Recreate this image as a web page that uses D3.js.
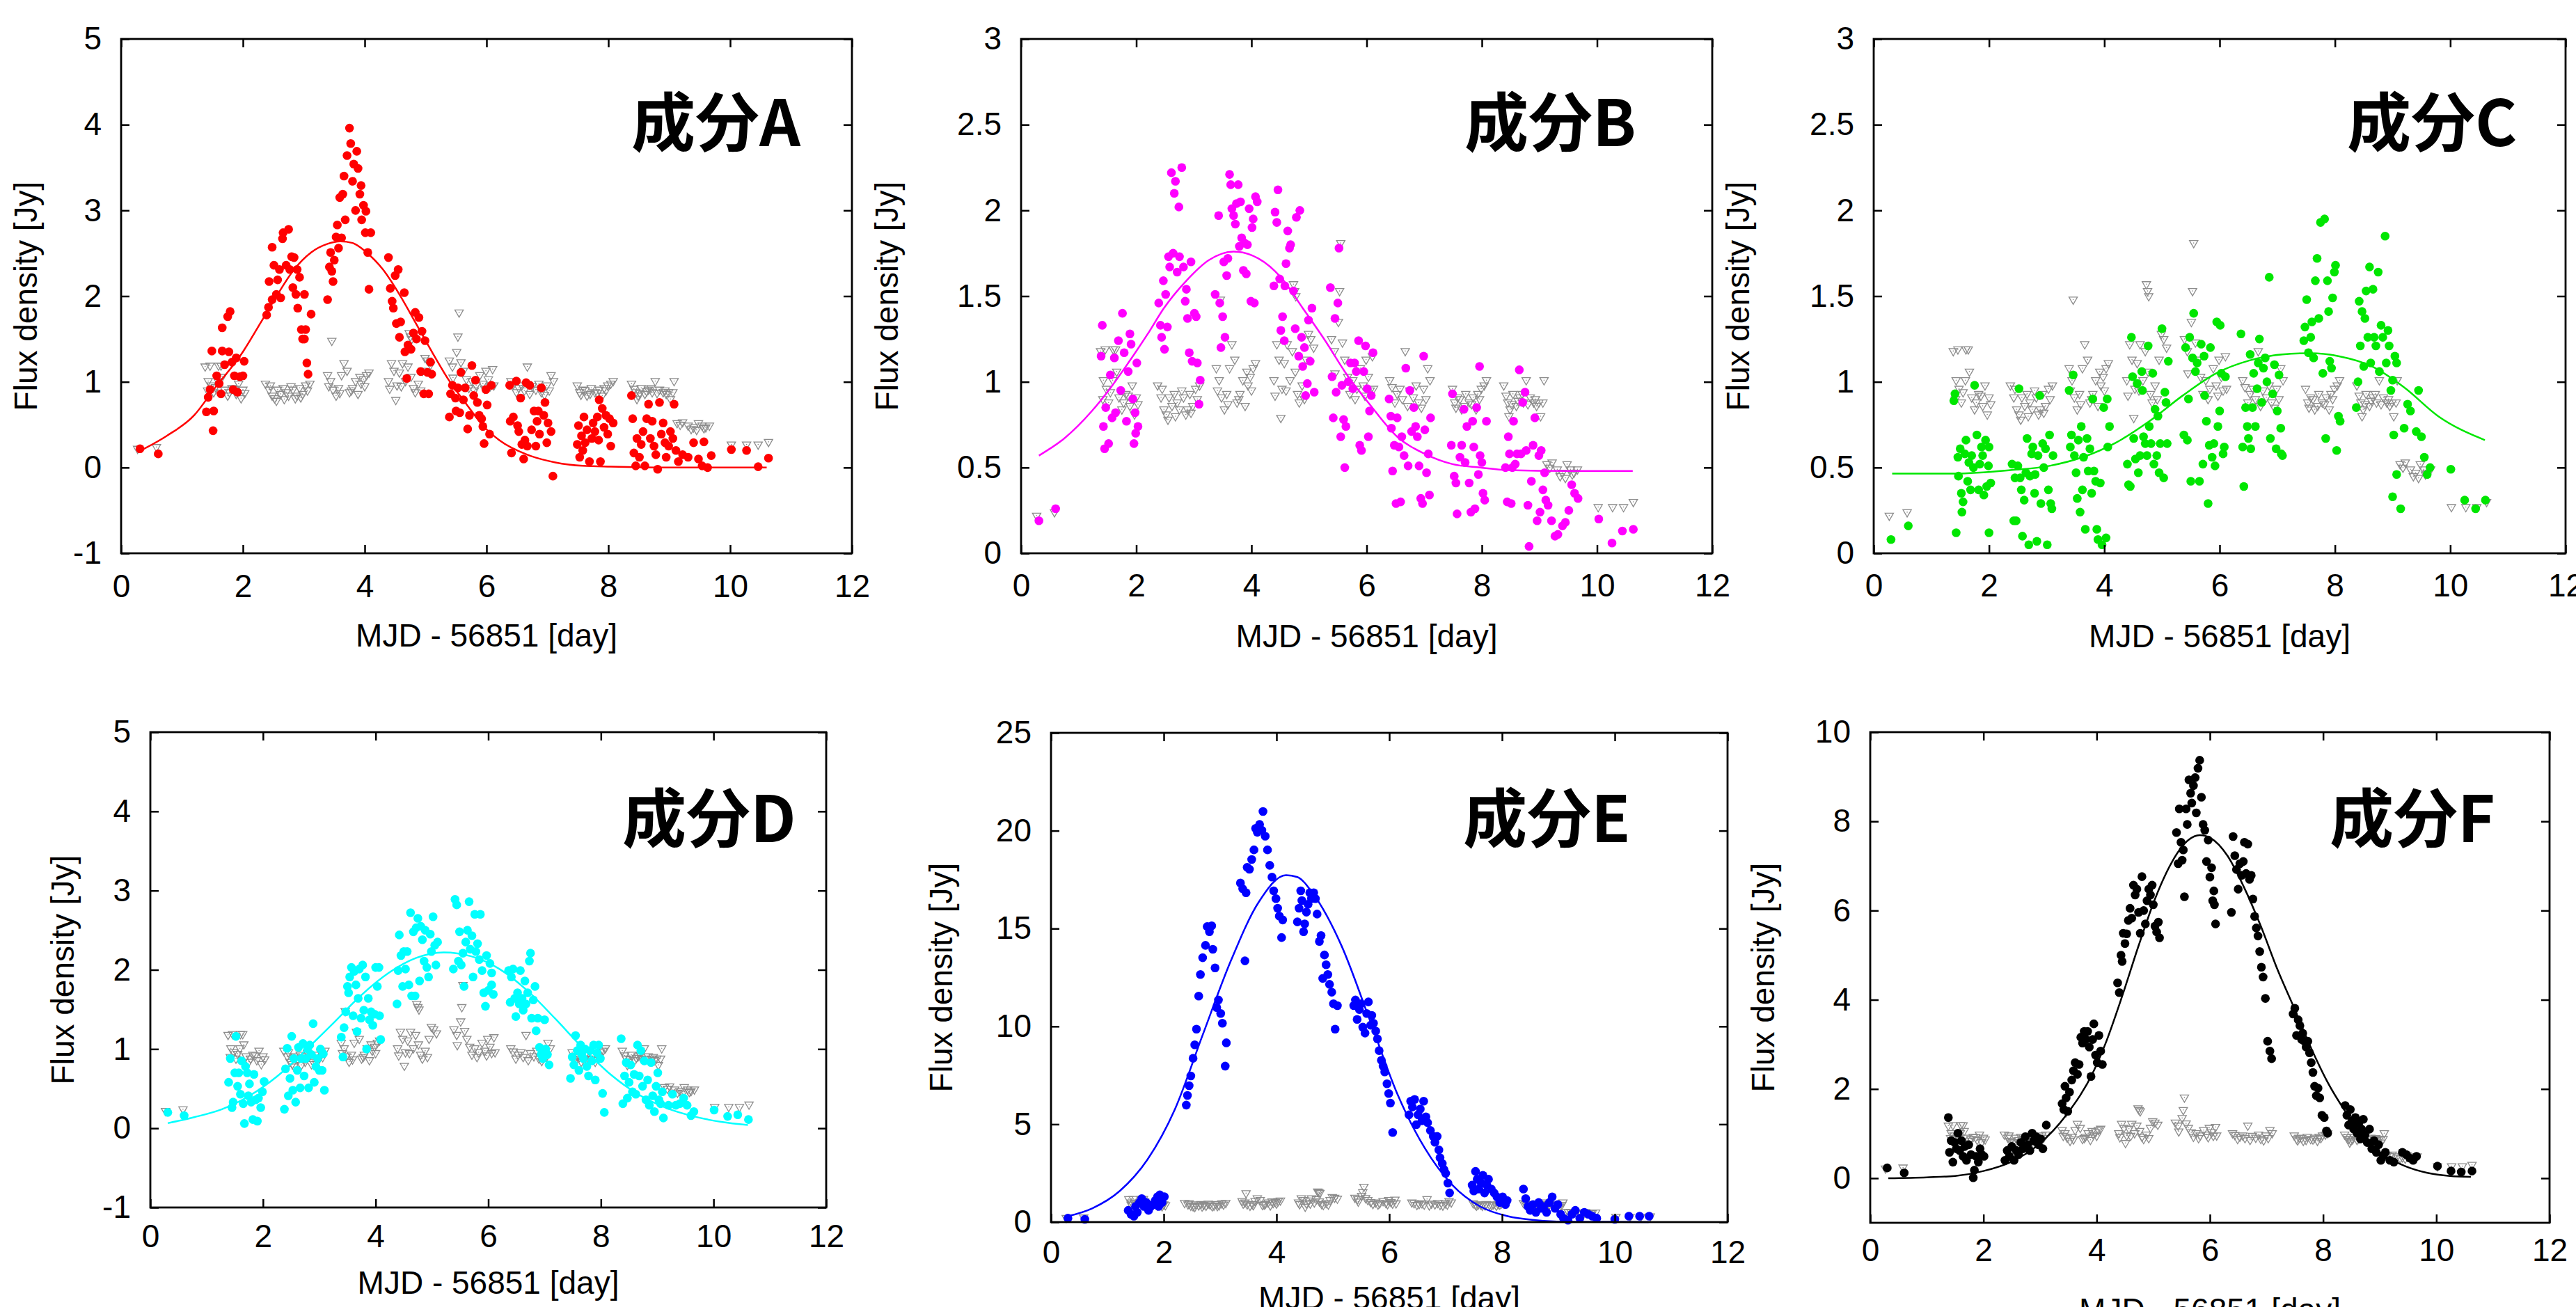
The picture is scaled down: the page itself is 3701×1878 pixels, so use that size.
<!DOCTYPE html>
<html><head><meta charset="utf-8">
<script src="https://cdn.jsdelivr.net/npm/d3@7"></script>
<style>body{margin:0;background:#fff}svg{display:block;background:#fff}</style>
</head><body>
<script>
// ---------------- DATA ----------------
const panelNames = ["成分A","成分B","成分C","成分D","成分E","成分F"];
const seriesColors = ["#ff0000","#ff00ff","#00e600","#00ffff","#0000ff","#000000"];
const xTicks = [0,2,4,6,8,10,12];
const yTicksA = [-1,0,1,2,3,4,5];
const yTicksB = [0,0.5,1,1.5,2,2.5,3];
const yTicksC = [0,0.5,1,1.5,2,2.5,3];
const yTicksD = [-1,0,1,2,3,4,5];
const yTicksE = [0,5,10,15,20,25];
const yTicksF = [0,2,4,6,8,10];
const xLabel = "MJD - 56851 [day]";
const yLabel = "Flux density [Jy]";

// gray downward triangles (same in every panel)
const limits = [
[0.27,0.22],[0.58,0.24],
[1.38,1.18],[1.46,1.19],[1.60,1.19],[1.43,1.01],[1.48,0.96],[1.52,0.88],[1.59,1.01],[1.64,1.19],[1.66,1.06],[1.70,0.91],[1.75,0.84],[1.82,0.93],[1.89,0.86],[1.93,0.98],[2.0,0.91],[1.97,0.81],[1.42,0.90],[1.55,0.94],[1.78,0.88],[1.86,0.92],[2.03,0.87],
[2.37,0.98],[2.43,0.91],[2.48,0.84],[2.52,0.81],[2.57,0.91],[2.62,0.86],[2.66,0.93],[2.71,0.88],[2.75,0.84],[2.82,0.91],[2.89,0.84],[2.93,0.93],[2.98,0.86],[3.03,0.96],[3.10,0.98],[2.86,0.81],[2.45,0.96],[2.55,0.78],[2.68,0.80],[2.79,0.95],[2.95,0.82],[3.06,0.90],
[3.46,1.48],[3.39,1.08],[3.44,1.01],[3.48,0.91],[3.53,0.84],[3.57,0.93],[3.62,1.08],[3.66,1.22],[3.71,1.13],[3.75,0.88],[3.80,0.93],[3.85,1.01],[3.89,0.86],[3.94,0.98],[3.98,1.03],[4.03,1.08],[4.07,1.11],[3.92,1.06],[3.41,0.95],[3.59,0.87],[3.78,0.90],[4.00,0.95],
[4.39,1.01],[4.44,1.22],[4.48,1.13],[4.51,0.79],[4.53,0.96],[4.57,1.11],[4.62,1.22],[4.67,1.01],[4.71,1.18],[4.76,1.06],[4.83,0.88],[4.88,0.98],[4.95,1.13],[4.99,1.28],[5.03,1.25],[5.08,1.20],[4.73,1.57],[4.75,1.53],[4.77,1.50],[4.41,0.92],[4.60,0.95],[4.80,0.93],[4.92,0.90],
[5.39,1.25],[5.44,1.18],[5.55,1.81],[5.53,1.53],[5.51,1.35],[5.58,1.23],[5.62,1.13],[5.67,1.03],[5.71,0.93],[5.76,1.01],[5.83,0.96],[5.89,1.08],[5.94,0.98],[5.99,1.13],[6.03,1.03],[6.10,1.15],[6.12,0.96],[5.45,1.05],[5.80,0.90],[5.97,0.92],[6.06,0.95],
[6.40,1.01],[6.49,0.88],[6.58,0.96],[6.67,1.18],[6.71,0.86],[6.81,0.91],[6.90,0.88],[6.99,0.96],[7.06,1.08],[7.10,1.01],[6.44,0.97],[6.53,0.93],[6.62,0.90],[6.75,0.95],[6.86,0.98],[6.95,0.85],[7.03,0.90],
[7.49,0.96],[7.53,0.88],[7.58,0.91],[7.65,0.84],[7.72,0.93],[7.78,0.88],[7.85,0.91],[7.93,0.93],[7.99,0.96],[8.04,0.98],[8.08,1.01],[7.90,0.84],[7.55,0.85],[7.62,0.90],[7.70,0.86],[7.82,0.87],[7.96,0.90],
[8.38,0.98],[8.45,0.88],[8.49,0.84],[8.54,0.93],[8.60,0.86],[8.66,0.91],[8.72,0.88],[8.77,1.01],[8.84,0.91],[8.90,0.88],[8.95,0.86],[8.99,0.88],[9.06,0.88],[9.08,1.01],[8.42,0.92],[8.47,0.80],[8.52,0.87],[8.63,0.89],[8.70,0.93],[8.80,0.87],[8.93,0.90],[9.02,0.80],
[9.13,0.52],[9.22,0.53],[9.31,0.49],[9.40,0.47],[9.48,0.52],[9.54,0.49],[9.60,0.47],[9.66,0.49],[9.18,0.50],[9.36,0.45],[9.45,0.44],[9.57,0.46],
[10.02,0.27],[10.27,0.27],[10.46,0.27],[10.63,0.30]
];

const pointsA = [
[0.31,0.22],[0.61,0.16],
[1.49,1.36],[1.43,0.82],[1.40,0.65],[1.52,0.66],[1.51,0.43],[1.57,1.07],[1.61,0.98],[1.64,0.86],[1.66,1.63],[1.66,1.36],[1.70,1.20],[1.75,1.76],[1.79,1.82],[1.77,1.35],[1.82,1.23],[1.89,1.28],[1.86,1.07],[1.91,0.88],[1.95,1.06],[2.0,1.07],[2.02,1.24],[1.84,0.91],[1.46,0.91],
[2.39,1.78],[2.42,1.87],[2.43,2.17],[2.48,1.96],[2.48,2.57],[2.51,2.36],[2.55,2.02],[2.57,2.19],[2.60,2.31],[2.62,1.98],[2.65,2.67],[2.66,2.74],[2.71,2.36],[2.75,2.78],[2.77,2.31],[2.80,2.46],[2.82,2.10],[2.84,2.45],[2.89,2.31],[2.87,2.02],[2.90,1.86],[2.93,2.22],[2.96,1.61],[2.98,1.50],[3.01,2.02],[3.03,1.61],[3.05,1.22],[3.07,1.09],[3.12,1.79],[3.01,1.50],
[3.39,1.96],[3.42,2.34],[3.44,2.51],[3.46,2.29],[3.48,2.17],[3.50,2.42],[3.53,2.69],[3.55,2.83],[3.57,2.56],[3.59,3.15],[3.62,2.68],[3.64,3.19],[3.66,3.40],[3.68,2.89],[3.71,3.64],[3.75,3.96],[3.77,3.78],[3.80,3.34],[3.82,3.54],[3.85,3.00],[3.87,3.69],[3.89,3.49],[3.92,3.19],[3.94,3.29],[3.95,2.89],[3.98,3.06],[4.01,2.74],[4.02,2.99],[4.05,2.51],[4.07,2.08],[4.10,2.74],
[4.39,2.45],[4.42,2.09],[4.45,1.94],[4.47,1.86],[4.50,2.24],[4.52,1.68],[4.55,2.31],[4.57,1.52],[4.59,1.70],[4.65,2.04],[4.66,1.35],[4.69,1.04],[4.71,1.43],[4.76,1.38],[4.80,1.57],[4.83,1.81],[4.85,1.50],[4.89,1.75],[4.92,1.12],[4.94,1.59],[4.97,0.86],[4.99,1.48],[5.03,1.11],[5.05,0.86],[5.08,1.23],[5.10,1.09],
[5.39,0.59],[5.41,0.86],[5.44,0.96],[5.49,0.81],[5.50,0.66],[5.53,0.93],[5.56,0.64],[5.58,1.11],[5.62,0.79],[5.65,0.93],[5.69,0.45],[5.72,0.61],[5.76,1.19],[5.79,0.84],[5.82,1.02],[5.85,0.76],[5.88,0.61],[5.92,0.57],[5.94,0.48],[5.96,0.28],[5.99,0.91],[6.01,0.73],[6.05,0.39],[6.08,0.96],
[6.38,0.96],[6.39,0.54],[6.41,0.17],[6.44,0.59],[6.49,1.01],[6.51,0.49],[6.53,0.42],[6.56,0.81],[6.58,0.27],[6.61,0.10],[6.63,0.32],[6.65,0.99],[6.67,0.25],[6.71,0.96],[6.74,0.44],[6.78,0.66],[6.81,0.25],[6.83,0.54],[6.85,0.66],[6.87,0.39],[6.90,0.93],[6.94,0.61],[6.96,0.76],[6.99,0.29],[7.01,0.52],[7.06,0.42],[7.09,-0.10],
[7.49,0.27],[7.51,0.49],[7.53,0.12],[7.56,0.37],[7.58,0.20],[7.60,0.59],[7.62,0.29],[7.65,0.44],[7.69,0.07],[7.73,0.34],[7.75,0.52],[7.78,0.42],[7.82,0.59],[7.84,0.32],[7.85,0.79],[7.87,0.07],[7.90,0.69],[7.93,0.47],[7.96,0.61],[7.99,0.39],[8.02,0.57],[8.04,0.25],[8.08,0.52],
[8.38,0.84],[8.40,0.57],[8.42,0.17],[8.45,0.02],[8.47,0.34],[8.51,0.12],[8.54,0.27],[8.57,0.42],[8.60,0.02],[8.63,0.57],[8.66,0.74],[8.69,0.34],[8.72,0.54],[8.75,0.25],[8.78,0.15],[8.81,-0.02],[8.84,0.76],[8.87,0.39],[8.90,0.52],[8.93,0.29],[8.95,0.12],[8.99,0.25],[9.02,0.42],[9.06,0.34],[9.08,0.74],[9.11,0.20],[9.15,0.07],
[9.22,0.15],[9.31,0.12],[9.40,0.29],[9.48,0.10],[9.54,0.02],[9.57,0.30],[9.63,0.00],[9.69,0.14],
[10.02,0.21],[10.27,0.20],[10.46,0.01],[10.63,0.11]
];

const pointsB = [
[0.31,0.19],[0.60,0.26],
[1.41,1.33],[1.39,1.15],[1.43,0.74],[1.45,0.61],[1.47,0.85],[1.52,0.64],[1.55,1.04],[1.58,0.79],[1.62,1.14],[1.64,0.82],[1.69,1.24],[1.73,0.95],[1.76,1.40],[1.79,1.17],[1.83,0.77],[1.86,1.06],[1.89,1.28],[1.91,1.22],[1.94,0.90],[1.96,0.64],[1.98,0.82],[2.01,1.11],[2.03,0.74],[1.99,0.70],
[2.39,1.46],[2.42,1.33],[2.44,1.26],[2.49,1.19],[2.47,1.59],[2.51,1.51],[2.54,1.32],[2.56,1.73],[2.58,1.67],[2.61,2.22],[2.64,1.75],[2.66,2.10],[2.68,2.17],[2.71,1.64],[2.74,2.02],[2.75,1.73],[2.79,2.25],[2.82,1.67],[2.85,1.47],[2.87,1.54],[2.89,1.37],[2.92,1.17],[2.95,1.70],[2.97,1.12],[3.01,1.40],[3.04,1.38],[3.06,1.11],[3.09,0.87],[3.11,1.01],
[3.37,1.51],[3.43,1.97],[3.45,1.46],[3.47,1.20],[3.50,1.38],[3.52,1.70],[3.54,1.26],[3.57,1.62],[3.59,1.72],[3.62,2.21],[3.64,2.15],[3.66,2.01],[3.69,1.97],[3.72,1.92],[3.74,2.04],[3.77,2.15],[3.79,1.79],[3.81,2.05],[3.83,1.84],[3.86,1.65],[3.88,1.81],[3.91,1.63],[3.93,1.80],[3.96,2.01],[3.99,1.47],[4.01,1.90],[4.03,1.95],[4.05,1.46],[4.07,2.08],[4.10,2.05],
[4.39,1.56],[4.41,1.99],[4.44,1.93],[4.46,2.12],[4.49,1.60],[4.51,1.30],[4.54,1.38],[4.57,1.24],[4.58,1.56],[4.60,1.69],[4.63,1.88],[4.66,1.78],[4.68,1.80],[4.73,1.53],[4.76,1.31],[4.78,1.96],[4.82,1.15],[4.84,2.00],[4.87,1.26],[4.89,1.09],[4.92,1.20],[4.94,0.92],[4.97,0.99],[4.99,1.36],[5.02,1.12],[5.05,1.43],[5.09,0.94],
[5.37,1.55],[5.40,1.03],[5.42,0.79],[5.45,1.37],[5.47,0.94],[5.50,1.46],[5.52,1.78],[5.55,0.68],[5.57,0.98],[5.60,0.78],[5.62,0.50],[5.64,0.74],[5.68,1.00],[5.72,1.11],[5.76,0.96],[5.79,1.11],[5.82,1.06],[5.86,1.24],[5.88,0.63],[5.91,0.60],[5.95,1.06],[5.98,1.21],[6.01,0.96],[6.03,0.68],[6.05,0.83],[6.08,0.92],[6.11,1.17],
[6.39,0.90],[6.42,0.80],[6.43,0.73],[6.45,0.48],[6.48,0.63],[6.51,0.29],[6.53,0.79],[6.56,0.62],[6.59,0.30],[6.61,0.68],[6.65,0.57],[6.68,1.08],[6.72,0.51],[6.75,0.95],[6.78,0.71],[6.82,0.85],[6.85,0.74],[6.88,0.68],[6.91,0.51],[6.94,0.32],[6.97,0.29],[6.99,1.15],[7.01,0.72],[7.04,0.47],[7.07,0.58],[7.09,0.34],[7.11,0.79],
[7.47,0.63],[7.49,0.93],[7.52,0.45],[7.55,0.41],[7.57,0.23],[7.62,0.56],[7.65,0.63],[7.69,0.84],[7.71,0.53],[7.74,0.74],[7.78,0.41],[7.81,0.24],[7.84,0.77],[7.86,0.62],[7.88,0.26],[7.91,0.85],[7.94,0.46],[7.96,1.09],[7.97,0.57],[8.00,0.53],[8.02,0.35],[8.05,0.31],[8.08,0.77],
[8.41,0.50],[8.44,0.30],[8.46,0.68],[8.48,0.58],[8.51,0.29],[8.53,0.50],[8.55,0.77],[8.58,0.52],[8.61,0.58],[8.65,1.07],[8.68,0.58],[8.71,0.88],[8.75,0.94],[8.77,0.60],[8.80,0.28],[8.82,0.04],[8.86,0.42],[8.89,0.63],[8.92,0.79],[8.96,0.19],[8.99,0.57],[9.01,0.24],[9.03,0.60],[9.06,0.37],[9.09,0.47],[9.11,0.31],
[9.15,0.28],[9.21,0.19],[9.27,0.10],[9.32,0.11],[9.40,0.16],[9.45,0.18],[9.51,0.25],[9.56,0.40],[9.61,0.35],[9.67,0.32],
[10.03,0.20],[10.26,0.06],[10.44,0.13],[10.63,0.14]
];

const pointsC = [
[0.30,0.08],[0.60,0.16],
[1.41,0.93],[1.39,0.89],[1.43,0.12],[1.46,0.56],[1.47,0.45],[1.50,0.61],[1.52,0.35],[1.55,0.30],[1.53,0.24],[1.58,0.58],[1.60,0.66],[1.63,0.42],[1.65,0.53],[1.68,0.37],[1.70,0.57],[1.73,0.50],[1.75,0.98],[1.79,0.69],[1.82,0.37],[1.84,0.52],[1.87,0.62],[1.89,0.57],[1.91,0.34],[1.94,0.66],[1.96,0.39],[1.99,0.51],[2.00,0.62],[2.00,0.12],[2.03,0.41],
[2.40,0.52],[2.43,0.19],[2.45,0.44],[2.47,0.19],[2.50,0.51],[2.52,0.96],[2.54,0.44],[2.56,0.37],[2.58,0.10],[2.61,0.31],[2.64,0.47],[2.66,0.67],[2.69,0.05],[2.71,0.45],[2.74,0.58],[2.76,0.62],[2.79,0.35],[2.80,0.46],[2.83,0.07],[2.85,0.57],[2.88,0.92],[2.90,0.29],[2.93,0.64],[2.95,0.50],[2.98,0.61],[3.01,0.05],[3.03,0.37],[3.05,0.69],[3.07,0.29],[3.09,0.26],[3.11,0.57],
[3.39,0.95],[3.41,0.62],[3.43,0.69],[3.46,1.04],[3.48,0.57],[3.51,0.47],[3.53,0.32],[3.55,0.66],[3.58,0.24],[3.60,0.74],[3.62,0.37],[3.64,0.56],[3.67,0.14],[3.70,0.67],[3.72,0.48],[3.75,0.61],[3.78,0.35],[3.80,0.90],[3.82,0.48],[3.85,0.42],[3.87,0.14],[3.89,0.08],[3.93,0.41],[3.96,0.05],[3.99,0.85],[4.03,0.09],[4.06,0.62],[4.09,0.74],[4.05,0.90],
[4.40,0.52],[4.42,0.40],[4.45,0.39],[4.47,1.26],[4.49,1.03],[4.51,0.67],[4.54,0.55],[4.57,0.99],[4.59,0.47],[4.62,0.57],[4.65,1.06],[4.66,0.95],[4.68,0.68],[4.71,0.64],[4.74,0.57],[4.76,1.21],[4.78,0.74],[4.81,0.64],[4.84,1.05],[4.86,0.52],[4.88,0.84],[4.91,0.57],[4.93,0.80],[4.95,0.47],[4.97,0.64],[5.00,1.31],[5.03,0.44],[5.05,0.94],[5.07,0.88],[5.09,0.64],[5.11,1.12],
[5.38,0.69],[5.41,1.20],[5.44,0.66],[5.46,0.90],[5.48,1.26],[5.50,0.42],[5.53,1.14],[5.55,1.40],[5.58,1.06],[5.61,1.11],[5.65,0.42],[5.68,1.22],[5.71,0.52],[5.73,1.15],[5.74,0.92],[5.77,0.77],[5.80,0.29],[5.82,0.63],[5.84,1.20],[5.87,0.56],[5.90,0.64],[5.92,0.51],[5.95,1.35],[5.97,0.74],[6.00,0.83],[6.01,1.33],[6.03,1.05],[6.06,0.58],[6.08,0.62],[6.10,1.03],
[6.37,1.28],[6.40,0.62],[6.42,0.39],[6.45,0.85],[6.48,0.74],[6.50,0.67],[6.53,1.16],[6.54,0.61],[6.57,0.85],[6.59,1.05],[6.62,0.74],[6.65,0.96],[6.67,1.11],[6.69,1.25],[6.73,0.88],[6.76,1.08],[6.79,1.14],[6.82,1.00],[6.86,1.61],[6.88,0.67],[6.92,0.93],[6.95,1.10],[6.98,0.61],[7.00,0.83],[7.03,1.04],[7.06,0.73],[7.07,0.58],[7.09,0.57],
[7.46,1.24],[7.48,1.32],[7.51,1.48],[7.54,1.17],[7.58,1.26],[7.60,1.35],[7.63,1.14],[7.66,1.59],[7.69,1.72],[7.72,1.37],[7.75,1.93],[7.79,1.05],[7.82,1.95],[7.84,0.67],[7.87,1.59],[7.89,1.41],[7.91,1.12],[7.94,1.08],[7.96,1.49],[7.99,1.64],[8.01,1.68],[8.03,0.60],[8.06,0.80],[8.09,0.77],
[8.37,0.85],[8.40,1.00],[8.42,1.47],[8.44,1.21],[8.47,1.41],[8.50,1.09],[8.52,1.37],[8.54,1.53],[8.57,1.26],[8.60,1.67],[8.62,1.11],[8.66,1.54],[8.68,1.26],[8.71,1.21],[8.75,1.64],[8.77,1.06],[8.80,1.33],[8.83,1.26],[8.87,1.85],[8.89,1.11],[8.92,1.30],[8.94,1.21],[8.97,0.95],[9.00,1.01],[9.02,0.69],[9.04,1.15],[9.07,1.11],[9.00,0.33],[9.07,0.46],
[9.14,0.26],[9.20,0.73],[9.26,0.87],[9.31,0.83],[9.41,0.71],[9.45,0.95],[9.50,0.68],[9.55,0.56],[9.60,0.46],[9.65,0.50],
[10.01,0.49],[10.25,0.31],[10.44,0.26],[10.61,0.31]
];

const pointsD = [
[0.31,0.20],[0.60,0.16],
[1.39,0.58],[1.42,0.88],[1.45,0.26],[1.47,0.33],[1.50,0.70],[1.52,1.16],[1.55,0.53],[1.57,0.70],[1.60,0.43],[1.62,0.85],[1.65,0.31],[1.67,0.06],[1.69,0.78],[1.72,0.70],[1.74,0.41],[1.76,0.56],[1.79,0.33],[1.82,0.11],[1.84,0.68],[1.87,0.36],[1.90,0.09],[1.92,0.38],[1.96,0.26],[1.99,0.46],[2.02,0.59],
[2.38,0.24],[2.40,0.75],[2.43,1.01],[2.45,0.41],[2.48,0.63],[2.51,1.16],[2.53,0.48],[2.55,0.88],[2.58,0.33],[2.61,0.73],[2.63,1.02],[2.66,0.51],[2.68,0.88],[2.71,1.07],[2.73,0.66],[2.76,0.88],[2.79,1.00],[2.81,0.51],[2.83,1.05],[2.86,0.93],[2.89,1.32],[2.91,0.58],[2.94,0.78],[2.97,0.88],[3.00,0.73],[3.02,1.00],[3.05,0.73],[3.09,0.48],[3.07,0.94],
[3.39,1.15],[3.42,0.90],[3.44,1.27],[3.47,1.47],[3.50,1.79],[3.52,1.71],[3.54,1.91],[3.57,2.03],[3.60,1.42],[3.62,1.98],[3.65,1.81],[3.67,1.22],[3.69,1.64],[3.71,2.01],[3.74,1.39],[3.77,2.06],[3.79,1.49],[3.82,1.91],[3.84,1.00],[3.87,1.64],[3.89,1.37],[3.92,1.47],[3.95,1.30],[3.98,1.44],[4.00,2.03],[4.03,1.79],[4.06,2.03],[4.09,1.12],[4.07,1.42],
[4.38,1.57],[4.40,1.99],[4.42,2.44],[4.45,2.18],[4.48,1.79],[4.50,2.23],[4.53,2.01],[4.56,2.23],[4.59,1.81],[4.62,2.72],[4.64,1.67],[4.67,2.48],[4.70,1.67],[4.72,2.53],[4.75,2.65],[4.78,1.86],[4.80,2.55],[4.83,2.38],[4.86,2.11],[4.88,2.50],[4.91,2.03],[4.94,1.91],[4.97,2.45],[4.99,2.23],[5.02,2.67],[5.05,2.31],[5.07,2.06],[5.10,2.35],
[5.38,2.01],[5.41,2.89],[5.44,2.82],[5.47,2.11],[5.49,2.48],[5.52,2.06],[5.55,2.21],[5.57,1.79],[5.60,2.35],[5.63,2.50],[5.66,2.86],[5.68,2.26],[5.71,2.43],[5.73,1.91],[5.76,2.70],[5.78,2.23],[5.81,2.33],[5.84,2.13],[5.86,2.70],[5.89,1.99],[5.92,1.71],[5.95,1.54],[5.97,2.18],[6.00,1.74],[6.03,2.08],[6.06,1.81],[6.09,1.69],[6.06,1.96],
[6.36,1.99],[6.39,1.59],[6.41,1.91],[6.44,2.01],[6.47,1.64],[6.49,1.41],[6.52,1.71],[6.55,1.57],[6.57,1.99],[6.60,1.64],[6.62,1.49],[6.65,1.86],[6.67,1.57],[6.70,1.71],[6.73,2.11],[6.75,2.21],[6.77,1.39],[6.80,1.62],[6.83,1.79],[6.85,1.23],[6.88,1.39],[6.91,1.02],[6.94,0.93],[6.97,0.88],[7.00,1.37],[7.02,1.00],[7.05,0.93],[7.08,0.80],
[7.46,0.63],[7.49,0.90],[7.52,0.80],[7.55,1.17],[7.58,0.98],[7.61,0.73],[7.64,1.05],[7.66,0.93],[7.69,0.88],[7.72,1.00],[7.75,0.78],[7.78,0.66],[7.81,0.98],[7.84,0.85],[7.87,1.05],[7.90,0.61],[7.93,0.95],[7.96,1.05],[7.99,0.88],[8.03,0.44],[8.06,0.20],
[8.36,1.13],[8.39,0.31],[8.42,0.66],[8.45,0.83],[8.47,0.38],[8.50,0.58],[8.53,0.80],[8.56,0.46],[8.59,0.68],[8.62,0.43],[8.65,1.05],[8.68,0.66],[8.71,0.98],[8.74,0.53],[8.77,0.85],[8.80,0.36],[8.83,0.61],[8.86,0.29],[8.89,0.83],[8.92,0.41],[8.95,0.21],[8.98,0.53],[9.01,0.70],[9.03,0.36],[9.06,0.31],[9.09,0.46],[9.11,0.13],
[9.20,0.29],[9.27,0.43],[9.33,0.29],[9.40,0.31],[9.47,0.38],[9.53,0.29],[9.60,0.16],[9.65,0.21],
[10.01,0.23],[10.25,0.15],[10.43,0.17],[10.62,0.11]
];

const pointsE = [
[0.30,0.20],[0.60,0.14],
[1.37,0.60],[1.42,0.40],[1.47,0.30],[1.50,0.80],[1.53,0.50],[1.57,1.00],[1.61,1.20],[1.65,0.80],[1.69,1.00],[1.73,0.60],[1.77,0.80],[1.81,0.90],[1.85,1.10],[1.89,1.30],[1.93,1.39],[1.97,1.00],[2.01,1.30],[1.91,0.80],
[2.40,5.98],[2.42,6.47],[2.45,6.97],[2.48,7.47],[2.52,8.37],[2.55,9.06],[2.58,9.86],[2.62,11.55],[2.65,12.65],[2.69,13.51],[2.74,14.14],[2.77,15.10],[2.81,14.84],[2.85,15.14],[2.87,13.94],[2.91,12.99],[2.94,10.96],[2.97,11.35],[3.01,10.66],[3.04,10.16],[3.09,7.97],[3.11,9.16],
[3.36,17.33],[3.40,17.03],[3.44,13.35],[3.46,16.83],[3.48,18.13],[3.52,18.03],[3.56,18.53],[3.60,19.02],[3.63,20.12],[3.66,19.92],[3.70,20.32],[3.74,20.02],[3.76,20.98],[3.80,19.72],[3.84,19.02],[3.88,18.23],[3.92,17.63],[3.95,16.93],[3.99,16.53],[4.02,16.04],[4.05,15.64],[4.09,14.54],[4.11,15.44],
[4.37,15.34],[4.40,16.04],[4.43,16.93],[4.45,16.43],[4.48,14.84],[4.50,15.24],[4.53,15.84],[4.56,16.24],[4.59,16.83],[4.62,16.53],[4.66,16.83],[4.69,16.53],[4.72,15.74],[4.76,14.34],[4.79,14.64],[4.82,12.45],[4.85,13.65],[4.88,13.15],[4.91,12.65],[4.94,12.15],[4.98,11.75],[5.01,11.16],[5.04,9.86],[5.08,11.06],
[5.37,11.06],[5.40,11.35],[5.43,10.36],[5.47,10.86],[5.50,11.16],[5.53,9.96],[5.57,9.66],[5.60,10.66],[5.63,11.25],[5.67,10.06],[5.69,10.56],[5.72,10.16],[5.76,9.76],[5.79,9.36],[5.82,8.76],[5.86,8.27],[5.89,7.97],[5.92,7.67],[5.96,7.07],[5.99,6.57],[6.02,6.08],[6.06,4.58],
[6.35,5.48],[6.38,6.18],[6.41,5.88],[6.45,6.27],[6.48,4.98],[6.51,5.48],[6.55,5.78],[6.58,5.18],[6.61,6.18],[6.65,5.38],[6.68,5.08],[6.73,4.68],[6.78,4.38],[6.81,4.08],[6.85,4.38],[6.88,3.69],[6.90,3.29],[6.94,2.99],[6.97,2.69],[7.00,2.49],[7.04,1.99],[7.07,1.49],
[7.47,1.89],[7.50,1.59],[7.53,2.59],[7.56,2.19],[7.59,1.69],[7.63,1.99],[7.66,2.39],[7.69,1.49],[7.73,1.89],[7.76,2.19],[7.81,1.69],[7.86,1.49],[7.91,1.29],[7.96,1.00],[8.01,1.29],[8.06,0.90],[8.09,1.10],
[8.38,1.69],[8.42,1.20],[8.46,0.80],[8.50,0.60],[8.55,0.90],[8.60,0.50],[8.65,1.00],[8.69,0.70],[8.74,0.80],[8.79,0.50],[8.84,1.00],[8.89,1.29],[8.94,0.70],[8.99,0.90],[9.04,0.40],[9.09,0.20],
[9.17,0.10],[9.24,0.40],[9.30,0.60],[9.38,0.20],[9.46,0.50],[9.53,0.40],[9.60,0.30],[9.68,0.20],
[10.00,0.14],[10.25,0.30],[10.44,0.30],[10.61,0.30]
];

const pointsF = [
[0.30,0.23],[0.60,0.12],
[1.38,1.36],[1.40,0.58],[1.43,0.84],[1.46,0.36],[1.49,0.80],[1.52,0.66],[1.55,1.01],[1.58,0.62],[1.61,0.84],[1.64,0.49],[1.67,0.71],[1.70,0.40],[1.74,0.75],[1.78,0.53],[1.82,0.01],[1.84,0.18],[1.87,0.49],[1.91,0.36],[1.94,0.66],[1.97,0.53],[2.01,0.49],
[2.38,0.40],[2.42,0.62],[2.46,0.49],[2.50,0.71],[2.54,0.40],[2.58,0.62],[2.62,0.53],[2.66,0.80],[2.70,0.66],[2.74,0.93],[2.78,0.75],[2.82,0.62],[2.86,1.01],[2.89,0.84],[2.93,0.93],[2.97,0.75],[3.01,0.88],[3.05,0.66],[3.11,1.19],
[3.39,1.67],[3.42,1.54],[3.44,2.06],[3.46,1.80],[3.49,1.50],[3.52,1.93],[3.56,2.20],[3.59,2.41],[3.62,2.59],[3.66,2.33],[3.69,2.55],[3.72,3.16],[3.75,3.03],[3.78,3.29],[3.81,3.11],[3.84,3.29],[3.87,2.94],[3.90,2.28],[3.93,3.11],[3.95,3.46],[3.98,2.76],[4.01,2.59],[4.04,3.20],[4.07,2.85],[4.10,2.55],
[4.37,4.38],[4.40,4.16],[4.43,5.00],[4.45,4.86],[4.47,5.49],[4.50,5.26],[4.53,5.48],[4.56,5.78],[4.59,6.05],[4.62,5.83],[4.65,6.57],[4.68,6.35],[4.71,6.48],[4.74,5.96],[4.77,5.49],[4.80,6.76],[4.83,6.00],[4.86,5.70],[4.89,6.22],[4.92,6.48],[4.95,6.35],[4.98,6.57],[5.00,6.13],[5.03,5.65],[5.06,5.52],[5.09,5.74],[5.11,5.39],
[5.41,7.75],[5.44,7.05],[5.46,8.28],[5.49,7.53],[5.51,7.13],[5.53,7.36],[5.55,6.31],[5.58,8.28],[5.60,7.93],[5.63,8.93],[5.66,8.63],[5.68,8.41],[5.71,8.80],[5.74,8.98],[5.76,8.19],[5.79,9.19],[5.82,9.37],[5.85,8.54],[5.88,7.93],[5.91,7.80],[5.94,7.10],[5.97,7.58],[6.00,6.75],[6.03,6.96],[6.05,6.22],[6.07,6.44],[6.10,5.70],[6.08,6.13],
[6.38,5.96],[6.41,7.66],[6.44,7.23],[6.47,6.92],[6.50,6.48],[6.53,7.05],[6.56,6.79],[6.59,7.10],[6.61,7.53],[6.64,6.83],[6.67,7.49],[6.70,6.70],[6.73,6.79],[6.76,6.26],[6.79,5.87],[6.82,5.61],[6.85,5.43],[6.88,5.08],[6.91,4.73],[6.94,4.51],[6.98,4.03],[7.02,3.07],[7.06,2.85],[7.09,2.68],
[7.47,3.68],[7.50,3.81],[7.53,3.20],[7.56,3.55],[7.59,3.42],[7.62,3.11],[7.64,3.25],[7.67,3.07],[7.70,2.94],[7.73,3.07],[7.76,2.81],[7.79,2.59],[7.82,2.37],[7.85,2.06],[7.88,1.85],[7.91,2.02],[7.94,1.80],[7.98,1.41],[8.02,1.36],[8.06,1.06],[8.08,1.01],
[8.39,1.63],[8.42,1.41],[8.45,1.19],[8.48,1.54],[8.51,1.28],[8.54,1.10],[8.57,1.36],[8.60,1.01],[8.63,1.23],[8.66,0.88],[8.68,1.10],[8.71,1.32],[8.74,0.97],[8.78,0.80],[8.82,1.10],[8.86,0.66],[8.90,0.84],[8.94,0.58],[8.98,0.75],[9.02,0.40],[9.06,0.49],[9.10,0.58],
[9.18,0.40],[9.25,0.36],[9.40,0.58],[9.47,0.53],[9.53,0.45],[9.59,0.40],[9.65,0.49],
[10.02,0.27],[10.26,0.16],[10.44,0.14],[10.63,0.16]
];

// fitted curves
const fitA = [[0.27,0.18],[0.75,0.37],[1.2,0.61],[1.52,0.91],[2.0,1.35],[2.3,1.70],[2.57,2.02],[2.84,2.31],[3.12,2.51],[3.39,2.61],[3.6,2.64],[3.8,2.62],[4.03,2.51],[4.3,2.31],[4.57,2.02],[4.85,1.67],[5.12,1.33],[5.39,1.01],[5.67,0.74],[5.94,0.49],[6.21,0.32],[6.67,0.15],[7.13,0.06],[7.58,0.02],[8.04,0.01],[9.0,0.0],[10.6,0.0]];
const fitB = [[0.31,0.57],[0.75,0.67],[1.23,0.83],[1.52,0.95],[1.86,1.11],[2.2,1.28],[2.48,1.43],[2.87,1.59],[3.26,1.71],[3.69,1.76],[4.12,1.72],[4.51,1.61],[4.89,1.43],[5.28,1.24],[5.66,1.04],[6.05,0.87],[6.53,0.68],[7.01,0.58],[7.49,0.52],[7.97,0.50],[8.46,0.485],[9.5,0.48],[10.62,0.48]];
const fitC = [[0.32,0.465],[1.41,0.465],[2.37,0.485],[3.05,0.51],[3.62,0.56],[4.2,0.645],[4.78,0.77],[5.36,0.92],[5.94,1.05],[6.52,1.125],[7.09,1.16],[7.58,1.167],[8.06,1.15],[8.64,1.09],[9.21,0.965],[9.79,0.80],[10.6,0.66]];
const fitD = [[0.31,0.064],[0.78,0.14],[1.27,0.24],[1.76,0.41],[2.26,0.66],[2.75,0.98],[3.24,1.32],[3.73,1.67],[4.23,1.96],[4.72,2.15],[5.21,2.22],[5.70,2.17],[6.20,2.01],[6.69,1.74],[7.18,1.39],[7.67,1.02],[8.17,0.68],[8.66,0.43],[9.15,0.26],[9.65,0.15],[10.14,0.08],[10.61,0.04]];
const fitE = [[0.30,0.30],[0.73,0.70],[1.22,1.59],[1.71,3.19],[2.20,5.78],[2.69,9.56],[3.19,13.35],[3.68,16.33],[4.17,17.73],[4.37,17.63],[4.66,16.73],[5.15,14.14],[5.65,10.36],[6.14,6.57],[6.63,3.78],[7.12,1.89],[7.61,0.80],[8.10,0.30],[8.60,0.10],[9.09,0.02],[10.6,0.0]];
const fitF = [[0.32,0.0],[1.0,0.02],[1.5,0.05],[2.0,0.16],[2.48,0.36],[2.97,0.75],[3.46,1.41],[3.95,2.41],[4.15,3.0],[4.45,4.08],[4.74,5.21],[5.03,6.26],[5.33,7.09],[5.62,7.58],[5.82,7.69],[6.02,7.62],[6.31,7.23],[6.6,6.53],[6.9,5.65],[7.19,4.69],[7.49,3.81],[7.78,2.94],[8.08,2.15],[8.37,1.54],[8.67,1.01],[9.06,0.53],[9.45,0.27],[9.84,0.12],[10.24,0.05],[10.61,0.03]];

const yDomains = [[-1,5],[0,3],[0,3],[-1,5],[0,25],[-1,10]];
const yTickSets = [yTicksA,yTicksB,yTicksC,yTicksD,yTicksE,yTicksF];
const pointSets = [pointsA,pointsB,pointsC,pointsD,pointsE,pointsF];
const fitSets = [fitA,fitB,fitC,fitD,fitE,fitF];

// ---------------- LAYOUT ----------------
const layout = [
  {left:174, right:1224, top:56, bottom:795, xTickBase:858, xLabBase:929, yLabX:53, titleX:907, titleBase:210},
  {left:1467, right:2460, top:56, bottom:795, xTickBase:857, xLabBase:930, yLabX:1290, titleX:2104, titleBase:210},
  {left:2692, right:3686, top:56, bottom:795, xTickBase:857, xLabBase:930, yLabX:2513, titleX:3372, titleBase:210},
  {left:216, right:1187, top:1052, bottom:1735, xTickBase:1792, xLabBase:1859, yLabX:106, titleX:894, titleBase:1210},
  {left:1510, right:2482, top:1053, bottom:1756, xTickBase:1815, xLabBase:1881, yLabX:1368, titleX:2102, titleBase:1210},
  {left:2687, right:3663, top:1052, bottom:1757, xTickBase:1812, xLabBase:1898, yLabX:2549, titleX:3347, titleBase:1210}
];

const FONT = "'Liberation Sans', Arial, Helvetica, sans-serif";
const svg = d3.select("body").append("svg").attr("width",3701).attr("height",1878);
svg.append("rect").attr("width",3701).attr("height",1878).attr("fill","#fff");

const triPath = d3.symbol().type(d3.symbolTriangle).size(64)();

layout.forEach((L,i)=>{
  const x = d3.scaleLinear().domain([0,12]).range([L.left,L.right]);
  const y = d3.scaleLinear().domain(yDomains[i]).range([L.bottom,L.top]);
  const g = svg.append("g");
  const col = seriesColors[i];

  // gray limits
  const tg = g.append("g");
  tg.selectAll("path").data(limits).join("path")
    .attr("d", triPath)
    .attr("transform", d=>`translate(${x(d[0])},${y(d[1])}) rotate(180)`)
    .attr("fill","none").attr("stroke","#8c8c8c").attr("stroke-width",1.3);
  tg.selectAll("circle").data(limits).join("circle")
    .attr("cx",d=>x(d[0])).attr("cy",d=>y(d[1])).attr("r",0.8).attr("fill","#8c8c8c");

  // points
  g.append("g").selectAll("circle").data(pointSets[i]).join("circle")
    .attr("cx",d=>x(d[0])).attr("cy",d=>y(d[1])).attr("r",6.3).attr("fill",col);

  // fit
  g.append("path").datum(fitSets[i])
    .attr("d", d3.line().x(d=>x(d[0])).y(d=>y(d[1])).curve(d3.curveMonotoneX))
    .attr("fill","none").attr("stroke",col).attr("stroke-width",2.5);

  // axes
  const padB = L.xTickBase - L.bottom - 33;
  const ax = g.append("g").attr("transform",`translate(0,${L.bottom})`)
    .call(d3.axisBottom(x).tickValues(xTicks).tickSizeInner(-12).tickSizeOuter(0).tickPadding(padB).tickFormat(d3.format("d")));
  const ay = g.append("g").attr("transform",`translate(${L.left},0)`)
    .call(d3.axisLeft(y).tickValues(yTickSets[i]).tickSizeInner(-12).tickSizeOuter(0).tickPadding(28).tickFormat(d=>String(d)));
  const at = g.append("g").attr("transform",`translate(0,${L.top})`)
    .call(d3.axisTop(x).tickValues(xTicks).tickSizeInner(-12).tickSizeOuter(0).tickFormat(""));
  const ar = g.append("g").attr("transform",`translate(${L.right},0)`)
    .call(d3.axisRight(y).tickValues(yTickSets[i]).tickSizeInner(-12).tickSizeOuter(0).tickFormat(""));
  [ax,ay,at,ar].forEach(a=>{
    a.select(".domain").remove();
    a.selectAll("line").attr("stroke","#000").attr("stroke-width",2.5);
    a.selectAll("text").attr("font-family",FONT).attr("font-size",46).attr("fill","#000");
  });

  // frame
  g.append("rect").attr("x",L.left).attr("y",L.top)
    .attr("width",L.right-L.left).attr("height",L.bottom-L.top)
    .attr("fill","none").attr("stroke","#000").attr("stroke-width",2.8);

  // labels
  g.append("text").attr("x",(L.left+L.right)/2).attr("y",L.xLabBase)
    .attr("text-anchor","middle").attr("font-family",FONT).attr("font-size",46).text(xLabel);
  g.append("text").attr("transform",`translate(${L.yLabX},${(L.top+L.bottom)/2}) rotate(-90)`)
    .attr("text-anchor","middle").attr("font-family",FONT).attr("font-size",46).text(yLabel);
  g.append("text").attr("x",L.titleX).attr("y",L.titleBase)
    .attr("font-family","'Noto Sans CJK JP','Noto Sans CJK SC',sans-serif").attr("font-weight","bold")
    .attr("font-size",92).text(panelNames[i]);
});
</script>
</body></html>
